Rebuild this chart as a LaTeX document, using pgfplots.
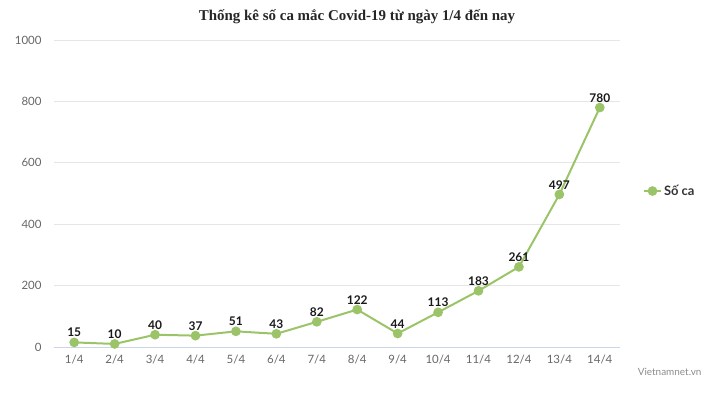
\documentclass[border=0pt]{standalone}
\usepackage{pgfplots}
\pgfplotsset{compat=1.18}
\usepackage{fontspec}
\setmainfont{Lato}
\newfontfamily\titlefont{Liberation Serif}
\definecolor{linegreen}{HTML}{9BC468}
\definecolor{gridgray}{HTML}{E6E6E6}
\definecolor{axisgray}{HTML}{CCD6EB}
\definecolor{ticktext}{HTML}{666666}
\begin{document}
\begin{tikzpicture}[x=1bp,y=1bp]
\begin{axis}[
  at={(0,0)}, anchor=south west,
  scale only axis,
  width=566bp, height=307bp,
  xmin=-0.5, xmax=13.5,
  ymin=0, ymax=1000,
  ytick={0,200,400,600,800,1000},
  xtick={0,...,13},
  xticklabels={1/4,2/4,3/4,4/4,5/4,6/4,7/4,8/4,9/4,10/4,11/4,12/4,13/4,14/4},
  ymajorgrids,
  grid style={gridgray, line width=0.8pt},
  axis lines*=left,
  x axis line style={axisgray, line width=0.8pt, -},
  y axis line style={draw=none},
  major tick length=0pt,
  tick style={draw=none},
  ticklabel style={font=\fontsize{11.5}{13}\selectfont, text=ticktext},
  /pgf/number format/assume math mode=true,
  /pgf/number format/1000 sep={},
  xticklabel style={yshift=-5bp},
  yticklabel style={xshift=-9bp},
  clip=false,
  legend style={at={(1.035,0.508)}, anchor=west, draw=none, fill=none,
    font=\fontsize{13}{15}\selectfont\bfseries, text=black!80},
  legend cell align=left,
]
\addplot[color=linegreen, line width=2bp, mark=*, mark size=3.8bp,
  mark options={fill=linegreen, draw=none},
  nodes near coords,
  every node near coord/.append style={font=\fontsize{12}{14}\selectfont\bfseries, text=black!90, anchor=south, yshift=1bp},
] coordinates {
(0,15) (1,10) (2,40) (3,37) (4,51) (5,43) (6,82) (7,122) (8,44) (9,113) (10,183) (11,261) (12,497) (13,780)
};
\addlegendentry{Số ca}
\end{axis}
\path[use as bounding box] (-54,-45) rectangle (666,347);
\node[font=\titlefont\bfseries\fontsize{15}{18}\selectfont, text=black!85] at (303,330) {Thống kê số ca mắc Covid-19 từ ngày 1/4 đến nay};
\node[font=\fontsize{10}{12}\selectfont, text=black!45, anchor=east] at (651,-25) {Vietnamnet.vn};
\end{tikzpicture}
\end{document}
